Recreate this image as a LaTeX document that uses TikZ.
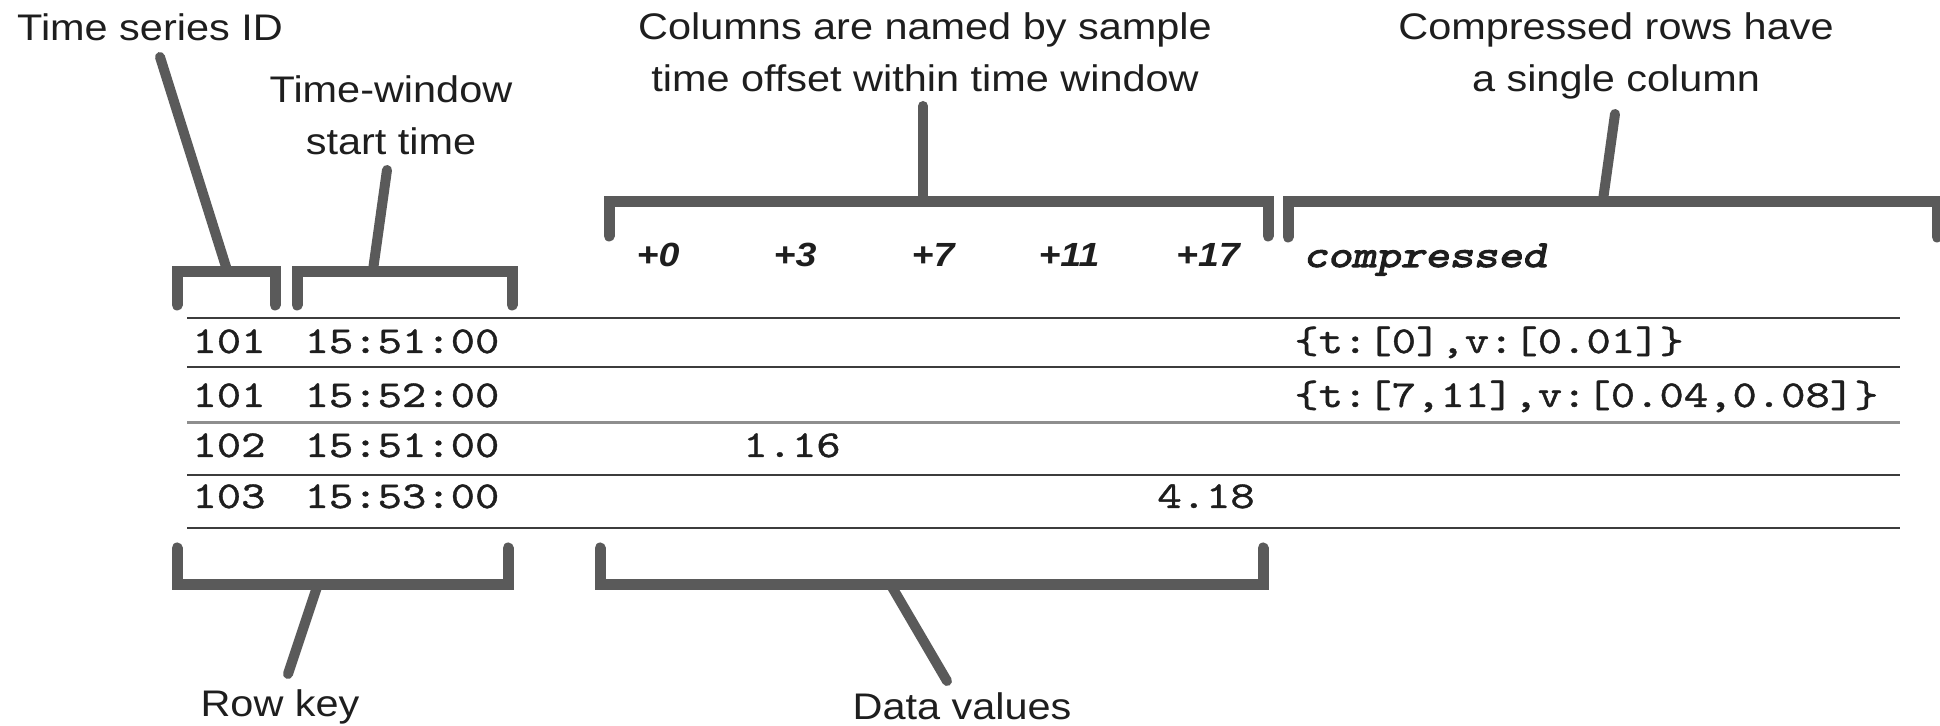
\documentclass[tikz,border=0pt]{standalone}
\usepackage{fontspec}
\newfontfamily\labfont{Liberation Sans}[FakeStretch=1.12]
\newfontfamily\tabmono{lmmono10-regular.otf}[FakeStretch=1.22,FakeBold=1]
\newfontfamily\cmpmono{lmmonoslant10-regular.otf}[FakeStretch=1.22,FakeBold=3]
\definecolor{brk}{HTML}{5A5A5A}
\definecolor{rulec}{HTML}{3C3C3C}
\definecolor{rulelt}{HTML}{8E8E8E}
\definecolor{txt}{HTML}{1E1E1E}
\begin{document}
\begin{tikzpicture}[x=0.5pt,y=-0.5pt,
  lbl/.style={font=\labfont\fontsize{18.5}{26}\selectfont, align=center, inner sep=0pt, text=txt, anchor=base},
  hdr/.style={font=\labfont\fontsize{16.75}{20}\selectfont\bfseries\itshape, inner sep=0pt, anchor=base, text=txt},
  cell/.style={font=\tabmono\fontsize{19}{22}\selectfont, inner sep=0pt, anchor=base, text=txt},
  cmp/.style={font=\cmpmono\fontsize{19}{22}\selectfont, inner sep=0pt, anchor=base, text=txt},
  brace/.style={draw=brk, line width=5.5pt, line cap=round, line join=miter},
  leader/.style={draw=brk, line width=5pt, line cap=round},
  rule/.style={draw=rulec, line width=1pt},
  rulelight/.style={draw=rulelt, line width=1.5pt},
]
\useasboundingbox[fill=white] (0,0) rectangle (1940,726);

% ---- labels (base = baseline of the last line) ----
\node[lbl] (tsid) at (150,41) {Time series ID};
\node[lbl] (twin) at (391,155) {Time-window\\start time};
\node[lbl] (cols) at (925,92) {Columns are named by sample\\time offset within time window};
\node[lbl] (comp) at (1616,92) {Compressed rows have\\a single column};
\node[lbl] (rkey) at (280,717) {Row key};
\node[lbl] (dval) at (962,720) {Data values};

% ---- top brackets ----
\draw[brace] (177,305) -- (177,272) -- (275,272) -- (275,305);
\draw[brace] (297,305) -- (297,272) -- (512,272) -- (512,305);
\draw[brace] (609,236) -- (609,202) -- (1268,202) -- (1268,236);
\draw[brace] (1288,237) -- (1288,202) -- (1937,202) -- (1937,237);

% ---- bottom brackets ----
\draw[brace] (177,548) -- (177,585) -- (508,585) -- (508,548);
\draw[brace] (600,548) -- (600,585) -- (1263,585) -- (1263,548);

% ---- leader coordinates ----
\coordinate (l1a) at (160,57);   \coordinate (l1b) at (227,270);
\coordinate (l2a) at (387,170);  \coordinate (l2b) at (373,270);
\coordinate (l3a) at (923,106);  \coordinate (l3b) at (923,200);
\coordinate (l4a) at (1615,114); \coordinate (l4b) at (1603,200);
\coordinate (l5a) at (317,587);  \coordinate (l5b) at (288,674);
\coordinate (l6a) at (892,587);  \coordinate (l6b) at (947,681);
\draw[leader] (l1a) -- (l1b);
\draw[leader] (l2a) -- (l2b);
\draw[leader] (l3a) -- (l3b);
\draw[leader] (l4a) -- (l4b);
\draw[leader] (l5a) -- (l5b);
\draw[leader] (l6a) -- (l6b);

% ---- column headers ----
\node[hdr] (h0) at (658,267) {+0};
\node[hdr] (h3) at (795,267) {+3};
\node[hdr] (h7) at (933,267) {+7};
\node[hdr] (h11) at (1069,267) {+11};
\node[hdr] (h17) at (1208,267) {+17};
\node[cmp] (hc) at (1425,267) {compressed};

% ---- table rules ----
\draw[rule] (187,318) -- (1900,318);
\draw[rule] (187,367) -- (1900,367);
\draw[rulelight] (187,423) -- (1900,423);
\draw[rule] (187,475) -- (1900,475);
\draw[rule] (187,528) -- (1900,528);

% ---- rows ----
\node[cell] (r1id) at (229,353) {101};
\node[cell] (r1t) at (402,353) {15:51:00};
\node[cell, anchor=base west] (r1c) at (1294,353) {\{t:[0],v:[0.01]\}};

\node[cell] (r2id) at (229,407) {101};
\node[cell] (r2t) at (402,407) {15:52:00};
\node[cell, anchor=base west] (r2c) at (1294,407) {\{t:[7,11],v:[0.04,0.08]\}};

\node[cell] (r3id) at (229,457) {102};
\node[cell] (r3t) at (402,457) {15:51:00};
\node[cell] (r3v) at (792,457) {1.16};

\node[cell] (r4id) at (229,508) {103};
\node[cell] (r4t) at (402,508) {15:53:00};
\node[cell] (r4v) at (1206,508) {4.18};
\end{tikzpicture}
\end{document}
